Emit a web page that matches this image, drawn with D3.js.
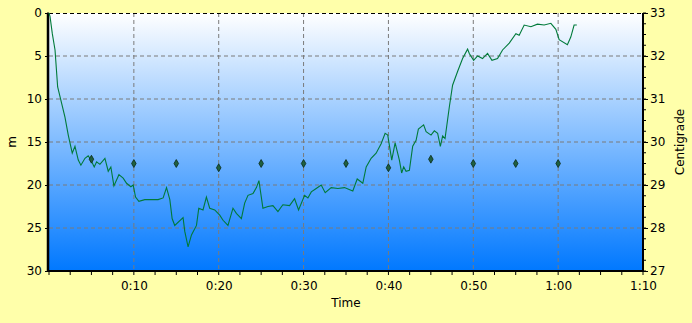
<!DOCTYPE html>
<html>
<head>
<meta charset="utf-8">
<script src="https://cdn.jsdelivr.net/npm/d3@7"></script>
<style>
  body { margin: 0; background: #ffffaa; }
  text { font-family: "DejaVu Sans", Verdana, sans-serif; font-size: 12px; fill: #000; }
</style>
</head>
<body>
<svg width="692" height="323"></svg>
<script>
// depth profile: minutes into the dive, depth in metres
const diveTime = [0, 0.12, 0.39, 0.71, 1.02, 1.49, 1.88, 2.27, 2.74, 3.06, 3.45, 3.76, 4.24, 4.62, 4.94, 5.33, 5.61, 6.0,
  6.59, 6.98, 7.29, 7.65, 8.24, 8.74, 9.14, 9.65, 9.92, 10.2, 10.59, 11.29, 12.08, 12.86, 13.45, 13.85, 14.24, 14.51,
  14.82, 15.8, 16.0, 16.39, 16.79, 17.38, 17.65, 18.15, 18.55, 18.94, 19.53, 20.12, 20.51, 21.09, 21.68, 22.08, 22.67,
  23.06, 23.45, 24.04, 24.44, 24.74, 25.21, 25.8, 26.39, 26.98, 27.56, 28.35, 28.94, 29.41, 30.12, 30.51, 30.91, 31.49,
  32.08, 32.55, 33.26, 34.04, 34.82, 35.8, 36.32, 36.98, 37.38, 37.96, 38.55, 39.14, 39.61, 39.92, 40.39, 40.79, 41.29,
  41.56, 41.8, 42.08, 42.47, 42.86, 43.26, 43.53, 44.15, 44.44, 45.02, 45.41, 45.8, 46.12, 46.39, 46.67, 47.18, 47.56,
  48.15, 48.74, 49.33, 49.53, 50.04, 50.51, 51.09, 51.68, 52.2, 52.86, 53.45, 54.24, 55.02, 55.41, 56.0, 56.79, 57.56,
  58.35, 59.14, 59.73, 60.12, 61.09, 61.49, 61.88, 62.2];
const diveDepth = [0, 0.4, 2.4, 4.3, 8.6, 10.5, 12.1, 14.2, 16.3, 15.5, 17.1, 17.7, 16.9, 16.6, 17.1, 17.9, 17.3, 17.6,
  16.9, 18.4, 17.9, 20.1, 18.8, 19.2, 19.8, 20.2, 20.0, 21.4, 21.9, 21.7, 21.7, 21.7, 21.5, 20.3, 21.7, 23.9,
  24.7, 23.8, 25.4, 27.2, 25.8, 24.7, 22.7, 22.9, 21.4, 22.7, 22.9, 23.5, 24.1, 24.7, 22.7, 23.3, 23.9,
  22.1, 21.2, 21.0, 20.3, 19.5, 22.7, 22.5, 22.4, 23.1, 22.3, 22.4, 21.6, 22.9, 21.2, 21.5, 20.8, 20.4,
  20.0, 20.9, 20.3, 20.4, 20.3, 20.7, 19.3, 19.8, 17.9, 16.9, 16.3, 15.2, 14.0, 14.2, 17.1, 15.1, 17.1,
  18.6, 17.9, 18.4, 18.3, 15.5, 14.8, 13.5, 13.0, 13.8, 14.2, 13.7, 14.0, 15.5, 14.3, 14.6, 10.9, 8.4,
  6.8, 5.3, 4.2, 4.7, 5.5, 5.0, 5.3, 4.7, 5.5, 5.3, 4.3, 3.5, 2.4, 2.6, 1.4, 1.6, 1.3,
  1.4, 1.2, 1.9, 3.1, 3.7, 2.8, 1.4, 1.4];

// water temperature samples every 5 minutes
const tempTime = [5, 10, 15, 20, 25, 30, 35, 40, 45, 50, 55, 60];
const tempValue = [29.6, 29.5, 29.5, 29.4, 29.5, 29.5, 29.5, 29.4, 29.6, 29.5, 29.5, 29.5];

const timeTicks = [10, 20, 30, 40, 50, 60, 70];
const depthTicks = [0, 5, 10, 15, 20, 25, 30];
const tempTicks = [27, 28, 29, 30, 31, 32, 33];

const svg = d3.select('svg');
const margin = {top: 13, right: 49, bottom: 52, left: 49};
const width = +svg.attr('width');
const height = +svg.attr('height');
const innerWidth = width - margin.left - margin.right;
const innerHeight = height - margin.top - margin.bottom;

const xScale = d3.scaleLinear().domain([0, 70]).range([0, innerWidth]);
const yScale = d3.scaleLinear().domain([0, 30]).range([0, innerHeight]);
const tScale = d3.scaleLinear().domain([27, 33]).range([innerHeight, 0]);

const fmtTime = m => Math.floor(m / 60) + ':' + d3.format('02')(m % 60);

// plot background gradient
const grad = svg.append('defs').append('linearGradient')
  .attr('id', 'bg').attr('x1', 0).attr('y1', 0).attr('x2', 0).attr('y2', 1);
grad.append('stop').attr('offset', 0).attr('stop-color', '#ffffff');
grad.append('stop').attr('offset', 1).attr('stop-color', '#0078ff');

const g = svg.append('g').attr('transform', `translate(${margin.left},${margin.top})`);

g.append('rect')
  .attr('width', innerWidth).attr('height', innerHeight)
  .attr('fill', 'url(#bg)');

// grid lines
g.append('g').selectAll('line').data(depthTicks.slice(1, -1))
  .join('line')
  .attr('x1', 0).attr('x2', innerWidth)
  .attr('y1', d => yScale(d)).attr('y2', d => yScale(d))
  .attr('stroke', '#7a7a7a').attr('stroke-dasharray', '4,3');
g.append('g').selectAll('line').data(timeTicks.slice(0, -1))
  .join('line')
  .attr('y1', 0).attr('y2', innerHeight)
  .attr('x1', d => xScale(d)).attr('x2', d => xScale(d))
  .attr('stroke', '#7a7a7a').attr('stroke-dasharray', '4,3');

// top border dashed
g.append('line')
  .attr('x1', 0).attr('x2', innerWidth).attr('y1', 0.5).attr('y2', 0.5)
  .attr('stroke', '#000').attr('stroke-dasharray', '4,3');

// x axis
const xAxis = d3.axisBottom(xScale)
  .tickValues(timeTicks).tickFormat(fmtTime)
  .tickSize(0).tickPadding(10);
const xAxisG = g.append('g').attr('transform', `translate(0,${innerHeight})`).call(xAxis);
xAxisG.select('.domain').remove();
xAxisG.selectAll('.minor').data(d3.range(0, 70.1, 2.5))
  .join('line').attr('class', 'minor')
  .attr('x1', d => xScale(d)).attr('x2', d => xScale(d))
  .attr('y1', 0).attr('y2', 4).attr('stroke', '#000');
g.append('line')
  .attr('x1', 0).attr('x2', innerWidth).attr('y1', innerHeight).attr('y2', innerHeight)
  .attr('stroke', '#000').attr('stroke-width', 2);

// left axis (depth)
const yAxis = d3.axisLeft(yScale).tickValues(depthTicks).tickSize(4).tickPadding(3);
const yAxisG = g.append('g').call(yAxis);
yAxisG.select('.domain').remove();
yAxisG.selectAll('.minor').data(d3.range(0, 30.1, 1.25))
  .join('line').attr('class', 'minor')
  .attr('y1', d => yScale(d)).attr('y2', d => yScale(d))
  .attr('x1', 0).attr('x2', -2).attr('stroke', '#000');
g.append('line')
  .attr('x1', -1).attr('x2', -1).attr('y1', 0).attr('y2', innerHeight)
  .attr('stroke', '#000').attr('stroke-width', 2.5);

// right axis (temperature)
const tAxis = d3.axisRight(tScale).tickValues(tempTicks).tickFormat(d3.format('d'))
  .tickSize(5).tickPadding(2);
const tAxisG = g.append('g').attr('transform', `translate(${innerWidth},0)`).call(tAxis);
tAxisG.select('.domain').remove();
tAxisG.selectAll('.minor').data(d3.range(27, 33.01, 0.25))
  .join('line').attr('class', 'minor')
  .attr('y1', d => tScale(d)).attr('y2', d => tScale(d))
  .attr('x1', 0).attr('x2', 3).attr('stroke', '#000');
g.append('line')
  .attr('x1', innerWidth).attr('x2', innerWidth).attr('y1', 0).attr('y2', innerHeight)
  .attr('stroke', '#000').attr('stroke-width', 2);

// depth line
const line = d3.line()
  .x((d, i) => xScale(diveTime[i]))
  .y(d => yScale(d));
g.append('path')
  .datum(diveDepth)
  .attr('d', line)
  .attr('fill', 'none')
  .attr('stroke', '#007a3a')
  .attr('stroke-width', 1.1);

// temperature markers
g.append('g').selectAll('path').data(tempValue)
  .join('path')
  .attr('d', d3.symbol(d3.symbolDiamond, 18))
  .attr('transform', (d, i) => `translate(${xScale(tempTime[i])},${tScale(d)})`)
  .attr('fill', '#1f6040')
  .attr('stroke', '#0a2a18')
  .attr('stroke-width', 0.8);

// axis titles
svg.append('text')
  .attr('x', margin.left + innerWidth / 2).attr('y', 307)
  .attr('text-anchor', 'middle').text('Time');
svg.append('text')
  .attr('transform', `translate(16,${margin.top + innerHeight / 2}) rotate(-90)`)
  .attr('text-anchor', 'middle').text('m');
svg.append('text')
  .attr('transform', `translate(684,${margin.top + innerHeight / 2}) rotate(-90)`)
  .attr('text-anchor', 'middle').text('Centigrade');
</script>
</body>
</html>
